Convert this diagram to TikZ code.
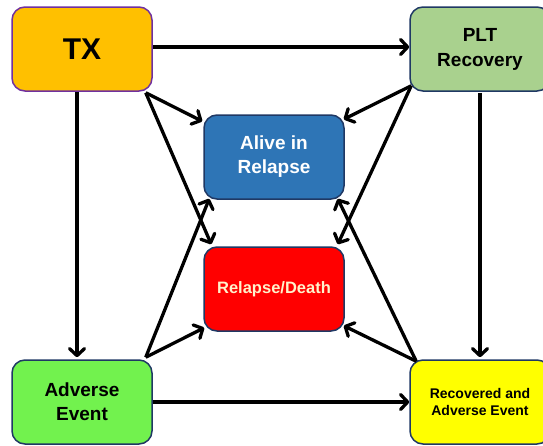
\documentclass[tikz,border=0pt]{standalone}
\usepackage{fontspec}
\setmainfont{Liberation Sans}
\usetikzlibrary{arrows.meta,calc}
\definecolor{txfill}{HTML}{FFC000}
\definecolor{txline}{HTML}{7030A0}
\definecolor{pltfill}{HTML}{A9D18E}
\definecolor{navy}{HTML}{1F3864}
\definecolor{alivefill}{HTML}{2E75B6}
\definecolor{rdfill}{HTML}{FF0000}
\definecolor{rdtext}{HTML}{FFF2CC}
\definecolor{aefill}{HTML}{72F24E}
\definecolor{recfill}{HTML}{FFFF00}
\tikzset{
  statebox/.style={draw=navy, line width=1.5pt, rounded corners=13pt,
    minimum width=140pt, minimum height=84pt, inner sep=0pt, align=center,
    font=\bfseries},
  conn/.style={line width=3.3pt, -{Straight Barb[length=7pt,width=15pt,line cap=round,line join=round]}}
}
\begin{document}
\begin{tikzpicture}[x=1pt,y=-1pt]
\clip (0,0) rectangle (543,445);
\useasboundingbox (0,0) rectangle (543,445);
\fill[white] (0,0) rectangle (543,445);
\node[statebox, draw=txline, fill=txfill, font=\bfseries\fontsize{30}{33}\selectfont] (tx) at (82,49) {TX};
\node[statebox, fill=pltfill, font=\bfseries\fontsize{19}{25}\selectfont] (plt) at (480,49) {PLT\\Recovery};
\node[statebox, fill=alivefill, text=white, font=\bfseries\fontsize{19}{24}\selectfont] (alive) at (274,157) {Alive in\\Relapse};
\node[statebox, fill=rdfill, text=rdtext, font=\bfseries\fontsize{16.5}{20}\selectfont] (rd) at (274,289) {Relapse/Death};
\node[statebox, fill=aefill, font=\bfseries\fontsize{19}{24}\selectfont] (ae) at (82,402) {Adverse\\Event};
\node[statebox, fill=recfill, font=\bfseries\fontsize{14}{17}\selectfont] (rec) at (480,402) {Recovered and\\Adverse Event};
% straight connectors
\draw[conn] ([yshift=2pt]tx.east) -- ([yshift=2pt]plt.west);
\draw[conn] ([xshift=-5pt]tx.south) -- ([xshift=-5pt,yshift=2pt]ae.north);
\draw[conn] ([yshift=-1pt]plt.south) -- ([yshift=2pt]rec.north);
\draw[conn] (ae.east) -- (rec.west);
% diagonal connectors
\draw[conn] ($(tx.south east)+(-7,1)$) -- ($(alive.north west)+(-1,7)$);
\draw[conn] ($(tx.south east)+(-7,1)$) -- ($(rd.north west)+(8,-2)$);
\draw[conn] ($(plt.south west)+(2,-6)$) -- ($(alive.north east)+(-1,5)$);
\draw[conn] ($(plt.south west)+(2,-6)$) -- ($(rd.north east)+(-7,-2)$);
\draw[conn] ($(ae.north east)+(-7,-2)$) -- ($(alive.south west)+(6,-1)$);
\draw[conn] ($(ae.north east)+(-7,-2)$) -- ($(rd.south west)+(1,-4)$);
\draw[conn] ($(rec.north west)+(7,2)$) -- ($(alive.south east)+(-7,-1)$);
\draw[conn] ($(rec.north west)+(7,2)$) -- ($(rd.south east)+(-1,-6)$);
\end{tikzpicture}
\end{document}
